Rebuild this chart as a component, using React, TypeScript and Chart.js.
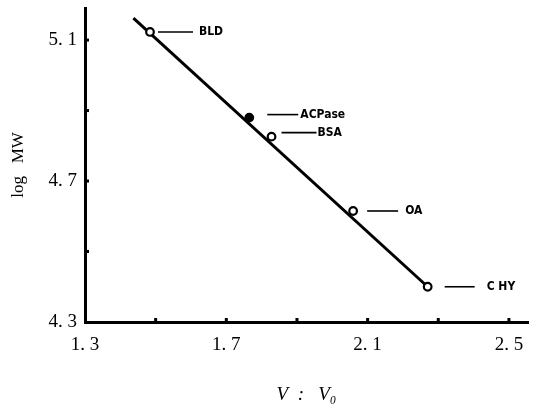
import React, { useEffect, useRef } from "react";
import { Chart, registerables } from "chart.js";

Chart.register(...registerables);

// ---- data ----
const proteinNames = ["BLD", "ACPase", "BSA", "OA", "C HY"];
const ratioValues = [1.484, 1.765, 1.828, 2.059, 2.27]; // V : Vo
const logMWValues = [5.123, 4.88, 4.826, 4.615, 4.4];
const filledMarker = [false, true, false, false, false];

const fitLineX = [1.437, 2.27];
const fitLineY = [5.162, 4.4];

const xTickValues = [1.3, 1.5, 1.7, 1.9, 2.1, 2.3, 2.5];
const xTickLabels = ["1. 3", "", "1. 7", "", "2. 1", "", "2. 5"];
const yTickValues = [4.3, 4.5, 4.7, 4.9, 5.1];
const yTickLabels = ["4. 3", "", "4. 7", "", "5. 1"];

// label layout (leader start dx, leader end dx, text dx, dy)
const labelLayout = [
  [8, 43, 49, 0],
  [18, 49, 51, -3],
  [10, 45, 46, -4],
  [14, 45, 52, 0],
  [17, 47, 59, 0],
];

const annotationPlugin = {
  id: "annotations",
  afterDatasetsDraw(chart: any) {
    const ctx = chart.ctx;
    const xs = chart.scales.x;
    const ys = chart.scales.y;
    ctx.save();
    // inner tick dots
    ctx.fillStyle = "#000";
    xTickValues.forEach((v, i) => {
      if (i === 0) return;
      const px = xs.getPixelForValue(v);
      ctx.fillRect(px - 1.5, ys.bottom - 4, 3, 3);
    });
    yTickValues.forEach((v, i) => {
      if (i === 0) return;
      const py = ys.getPixelForValue(v);
      ctx.fillRect(xs.left + 1, py - 1.5, 3, 3);
    });
    // labels with leader lines
    ctx.strokeStyle = "#000";
    ctx.lineWidth = 1.6;
    ctx.font = 'bold 12px "DejaVu Sans Condensed", "DejaVu Sans"';
    ctx.textBaseline = "middle";
    ctx.textAlign = "left";
    proteinNames.forEach((name, i) => {
      const px = xs.getPixelForValue(ratioValues[i]);
      const py = ys.getPixelForValue(logMWValues[i]);
      const [a, b, t, dy] = labelLayout[i];
      ctx.beginPath();
      ctx.moveTo(px + a, py + dy);
      ctx.lineTo(px + b, py + dy);
      ctx.stroke();
      ctx.fillText(name, px + t, py + dy);
    });
    ctx.restore();
  },
};

export default function App() {
  const canvasRef = useRef<HTMLCanvasElement | null>(null);

  useEffect(() => {
    const canvas = canvasRef.current;
    if (!canvas) return;
    const chart = new Chart(canvas, {
      type: "scatter",
      data: {
        datasets: [
          {
            label: "proteins",
            data: ratioValues.map((x, i) => ({ x, y: logMWValues[i] })),
            showLine: false,
            pointRadius: 3.8,
            pointBorderWidth: 2.2,
            pointBorderColor: "#000",
            pointBackgroundColor: filledMarker.map((f) => (f ? "#000" : "#fff")),
          },
          {
            label: "fit",
            data: fitLineX.map((x, i) => ({ x, y: fitLineY[i] })),
            showLine: true,
            borderColor: "#000",
            borderWidth: 3,
            pointRadius: 0,
          },
        ],
      },
      options: {
        responsive: false,
        animation: false,
        layout: { padding: { left: 0, top: 8, right: 12, bottom: 0 } },
        plugins: { legend: { display: false }, tooltip: { enabled: false } },
        scales: {
          x: {
            type: "linear",
            min: 1.3,
            max: 2.554,
            afterFit: (s: any) => {
              s.height = 86;
              s.paddingLeft = 0;
              s.paddingRight = 0;
            },
            afterBuildTicks: (s: any) => {
              s.ticks = xTickValues.map((v) => ({ value: v }));
            },
            grid: { display: false, drawTicks: false, tickLength: 0 },
            border: { display: true, color: "#000", width: 3 },
            ticks: {
              autoSkip: false,
              maxRotation: 0,
              padding: 12,
              color: "#000",
              font: { family: '"Liberation Serif"', size: 19 },
              callback: (_v: any, i: number) => xTickLabels[i],
            },
            title: {
              display: true,
              text: "V  :   V₀",
              color: "#000",
              font: { family: '"Liberation Serif"', size: 19, style: "italic" },
              padding: { top: 0, bottom: 2 },
            },
          },
          y: {
            type: "linear",
            min: 4.3,
            max: 5.191,
            afterFit: (s: any) => {
              s.width = 85;
              s.paddingTop = 0;
              s.paddingBottom = 0;
            },
            afterBuildTicks: (s: any) => {
              s.ticks = yTickValues.map((v) => ({ value: v }));
            },
            grid: { display: false, drawTicks: false, tickLength: 0 },
            border: { display: true, color: "#000", width: 3 },
            ticks: {
              autoSkip: false,
              padding: 8,
              color: "#000",
              font: { family: '"Liberation Serif"', size: 19 },
              callback: (_v: any, i: number) => yTickLabels[i],
            },
            title: {
              display: true,
              text: "log   MW",
              color: "#000",
              font: { family: '"Liberation Serif"', size: 17 },
              padding: { top: 8, bottom: 0 },
            },
          },
        },
      },
      plugins: [annotationPlugin],
    });
    return () => chart.destroy();
  }, []);

  return (
    <div style={{ position: "fixed", left: 0, top: 0, width: 540, height: 408, background: "#fff" }}>
      <canvas ref={canvasRef} width={540} height={408} style={{ display: "block" }} />
    </div>
  );
}
